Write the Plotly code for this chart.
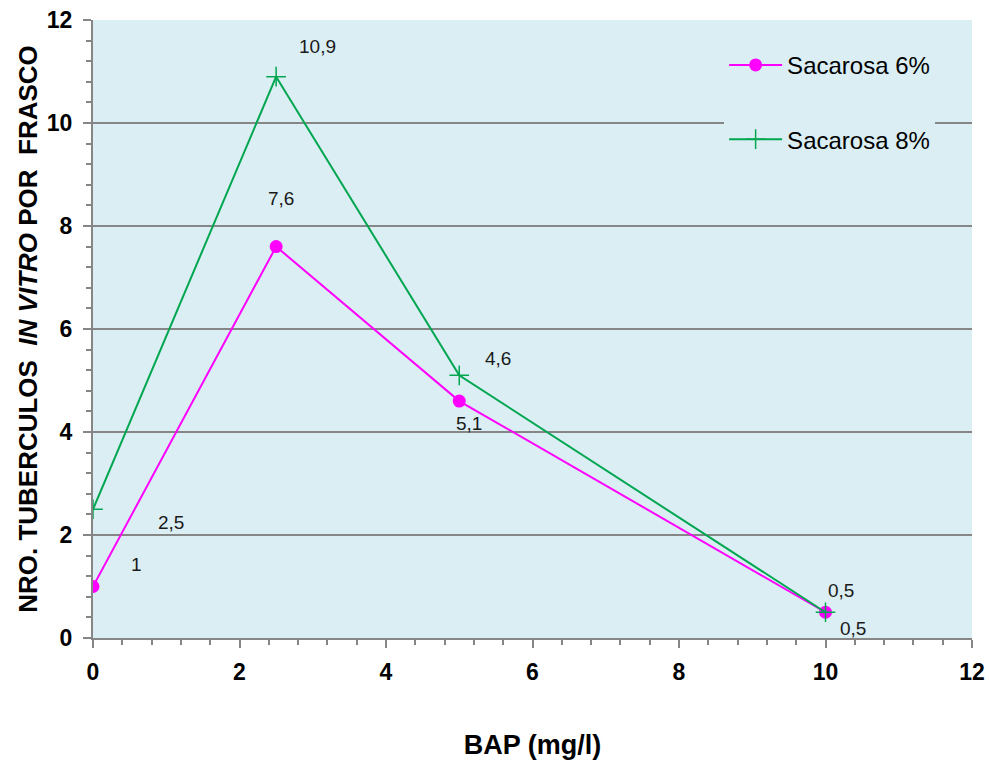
import plotly.graph_objects as go

bap = [0, 2.5, 5, 10]
sac6 = [1, 7.6, 4.6, 0.5]
sac8 = [2.5, 10.9, 5.1, 0.5]
labels = ["1", "2,5", "7,6", "10,9", "4,6", "5,1", "0,5", "0,5"]
label_x = [0.59, 1.06, 2.57, 3.07, 5.53, 5.13, 10.21, 10.38]
label_y = [1.42, 2.25, 8.54, 11.48, 5.42, 4.17, 0.93, 0.19]

fig = go.Figure()
fig.add_trace(go.Scatter(x=bap, y=sac6, mode="lines+markers", name="Sacarosa 6%",
                         legendgroup="a",
                         line=dict(color="#FF00FF", width=2),
                         marker=dict(symbol="circle", size=13, color="#FF00FF")))
fig.add_trace(go.Scatter(x=bap, y=sac8, mode="lines+markers", name="Sacarosa 8%",
                         legendgroup="b",
                         line=dict(color="#00A650", width=2),
                         marker=dict(symbol="cross-thin", size=14,
                                     line=dict(color="#00A650", width=1.5))))

for t, x, y in zip(labels, label_x, label_y):
    fig.add_annotation(x=x, y=y, text=t, showarrow=False,
                       font=dict(family="Arial, Liberation Sans", size=19, color="#1a1a1a"))

axis_font = dict(family="Arial, Liberation Sans", size=23, color="black", weight="bold")
fig.update_layout(
    width=989, height=762,
    margin=dict(l=93, r=17, t=20, b=124),
    paper_bgcolor="white",
    plot_bgcolor="#DAEEF3",
    font=dict(family="Arial, Liberation Sans"),
    showlegend=True,
    legend=dict(x=0.718, y=0.963, xanchor="left", yanchor="top",
                bgcolor="#DAEEF3", font=dict(size=24, color="black"),
                itemwidth=53, tracegroupgap=40),
    xaxis=dict(range=[0, 12], dtick=2, showgrid=False, zeroline=False, automargin=False,
               showline=True, linecolor="#868686", linewidth=2,
               ticks="outside", ticklen=8, tickcolor="#868686", tickwidth=2,
               minor=dict(dtick=0.4, ticks="outside", ticklen=5, tickcolor="#868686", tickwidth=2),
               tickfont=axis_font, ticklabelstandoff=4,
               title=dict(text="<b>BAP (mg/l)</b>", font=dict(size=27, color="black"), standoff=52)),
    yaxis=dict(range=[0, 12], dtick=2, showgrid=True, gridcolor="#868686", gridwidth=2,
               zeroline=False, automargin=False,
               showline=True, linecolor="#868686", linewidth=2,
               ticks="outside", ticklen=8, tickcolor="#868686", tickwidth=2,
               minor=dict(dtick=0.4, ticks="outside", ticklen=5, tickcolor="#868686", tickwidth=2,
                          showgrid=False),
               tickfont=axis_font, ticklabelstandoff=6,
               title=dict(text="<b>NRO. TUBERCULOS  <i>IN VITRO</i> POR  FRASCO</b>",
                          font=dict(size=26, color="black"), standoff=2)),
)

fig.write_html("out.html")
